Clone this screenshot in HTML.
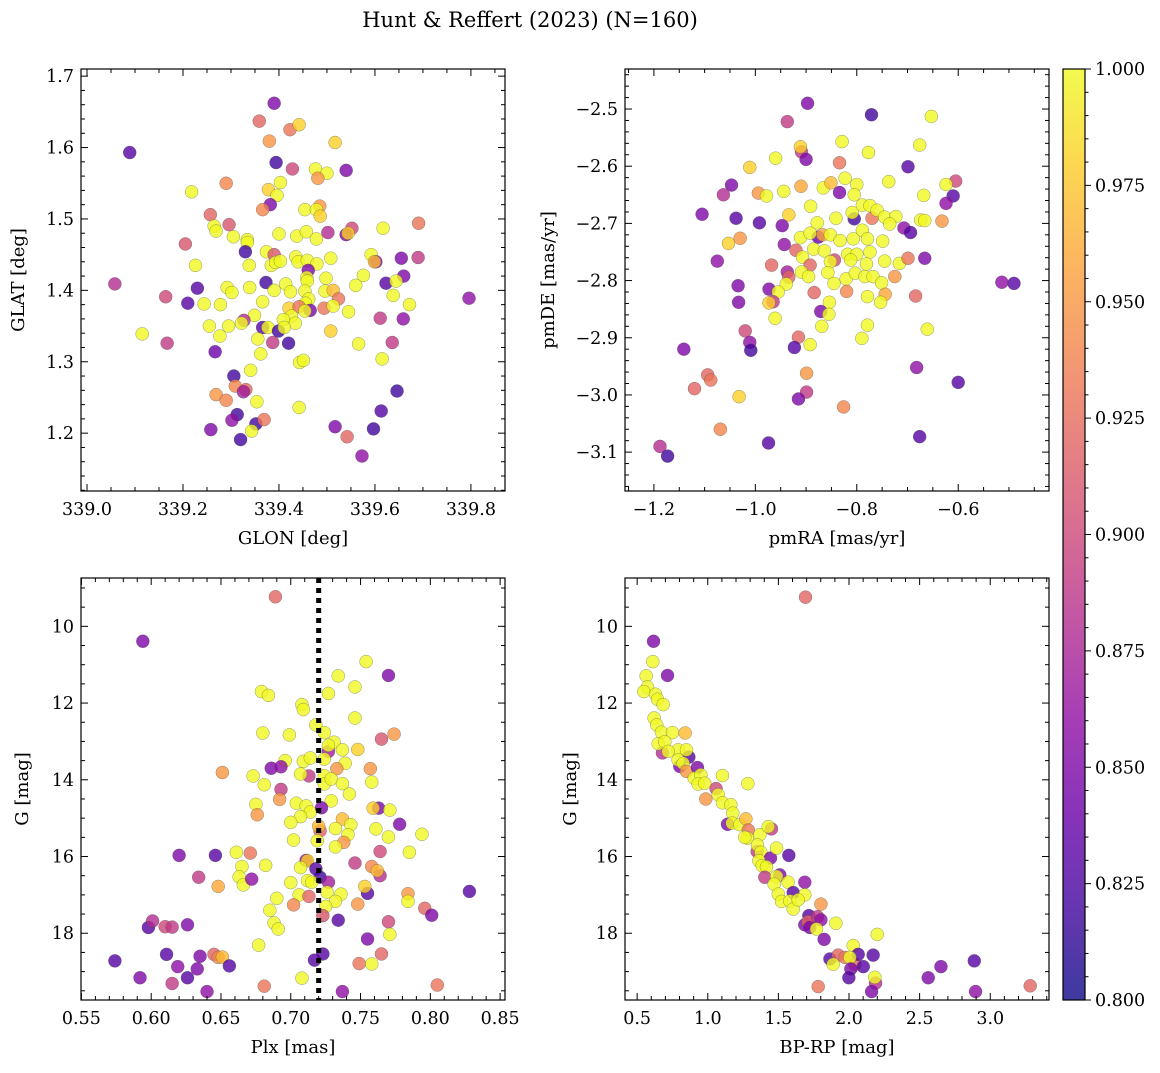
<!DOCTYPE html>
<html><head><meta charset="utf-8"><style>
body{margin:0;background:#fff;}
svg text{font-family:"DejaVu Serif","Liberation Serif",serif;fill:#000;}
</style></head><body>
<svg id="fig" width="1160" height="1068" xmlns="http://www.w3.org/2000/svg">
<text x="530" y="27" font-size="21" text-anchor="middle">Hunt &amp; Reffert (2023) (N=160)</text>
<defs><linearGradient id="cbg" x1="0" y1="1" x2="0" y2="0">
<stop offset="0" stop-color="#0d0887"/><stop offset="0.1" stop-color="#41049d"/><stop offset="0.2" stop-color="#6a00a8"/><stop offset="0.3" stop-color="#8f0da4"/><stop offset="0.4" stop-color="#b12a90"/><stop offset="0.5" stop-color="#cc4778"/><stop offset="0.6" stop-color="#e16462"/><stop offset="0.7" stop-color="#f2844b"/><stop offset="0.8" stop-color="#fca636"/><stop offset="0.9" stop-color="#fcce25"/><stop offset="1" stop-color="#f0f921"/></linearGradient></defs>
</svg>
<script>
// [x, y, membership probability]
const skyStars=[[339.390,1.662,.85],[339.359,1.637,.92],[339.423,1.625,.93],[339.442,1.632,.98],[339.380,1.609,.95],[339.517,1.607,.98],[339.089,1.593,.83],[339.394,1.579,.82],[339.428,1.570,.90],[339.476,1.570,1],[339.500,1.564,1],[339.481,1.557,.95],[339.540,1.568,.85],[339.290,1.550,.94],[339.218,1.538,1],[339.403,1.551,1],[339.378,1.541,.98],[339.396,1.533,1],[339.382,1.520,.85],[339.366,1.513,.94],[339.454,1.513,1],[339.485,1.518,.95],[339.478,1.513,1],[339.486,1.504,.98],[339.257,1.506,.92],[339.296,1.492,.91],[339.265,1.490,1],[339.269,1.483,1],[339.205,1.465,.91],[339.305,1.475,1],[339.334,1.471,1],[339.334,1.467,1],[339.330,1.454,.82],[339.400,1.479,1],[339.437,1.476,1],[339.457,1.482,1],[339.478,1.472,1],[339.502,1.481,.88],[339.552,1.487,.90],[339.540,1.478,.85],[339.544,1.480,.98],[339.617,1.487,1],[339.691,1.494,.93],[339.374,1.454,1],[339.390,1.450,.91],[339.226,1.435,1],[339.338,1.435,1],[339.384,1.435,1],[339.393,1.439,1],[339.403,1.441,1],[339.435,1.447,1],[339.440,1.440,1],[339.459,1.442,1],[339.479,1.437,1],[339.508,1.445,1],[339.592,1.450,1],[339.602,1.440,.85],[339.599,1.440,.97],[339.655,1.445,.85],[339.690,1.446,.89],[339.461,1.428,.85],[339.458,1.418,1],[339.459,1.413,1],[339.498,1.417,1],[339.576,1.421,1],[339.660,1.420,.85],[339.623,1.410,.83],[339.644,1.413,1],[339.058,1.409,.88],[339.230,1.403,.83],[339.292,1.404,1],[339.302,1.397,1],[339.339,1.404,1],[339.373,1.411,.82],[339.414,1.409,1],[339.390,1.400,1],[339.424,1.398,1],[339.454,1.399,1],[339.496,1.399,1],[339.513,1.400,.97],[339.560,1.407,1],[339.796,1.389,.86],[339.164,1.391,.90],[339.210,1.382,.83],[339.244,1.381,1],[339.278,1.380,1],[339.366,1.384,1],[339.462,1.388,1],[339.455,1.382,1],[339.524,1.388,.93],[339.494,1.375,.93],[339.513,1.378,1],[339.638,1.393,1],[339.672,1.380,1],[339.421,1.375,.98],[339.442,1.377,.93],[339.465,1.372,.85],[339.454,1.371,1],[339.426,1.364,1],[339.545,1.370,1],[339.349,1.365,1],[339.327,1.358,.88],[339.322,1.354,1],[339.409,1.359,1],[339.434,1.354,1],[339.255,1.350,1],[339.295,1.350,1],[339.366,1.348,.83],[339.377,1.348,1],[339.399,1.343,.82],[339.411,1.348,1],[339.611,1.361,.89],[339.659,1.360,.86],[339.508,1.343,.98],[339.115,1.339,1],[339.277,1.336,1],[339.356,1.332,1],[339.167,1.326,.89],[339.387,1.327,.89],[339.420,1.326,.82],[339.566,1.325,1],[339.636,1.327,.89],[339.267,1.314,.84],[339.362,1.311,1],[339.615,1.304,1],[339.443,1.299,1],[339.451,1.302,1],[339.341,1.288,1],[339.306,1.280,.82],[339.309,1.266,.94],[339.331,1.261,.92],[339.326,1.258,.87],[339.646,1.259,.82],[339.269,1.254,.95],[339.290,1.246,.94],[339.354,1.244,1],[339.442,1.236,1],[339.613,1.231,.83],[339.313,1.226,.82],[339.302,1.218,.86],[339.352,1.213,.82],[339.369,1.219,.93],[339.343,1.203,1],[339.258,1.205,.85],[339.517,1.209,.85],[339.597,1.206,.82],[339.542,1.195,.92],[339.320,1.191,.82],[339.573,1.168,.86]];
const pmStars=[[-0.897,-2.490,.85],[-0.771,-2.510,.82],[-0.653,-2.513,1],[-0.937,-2.522,.89],[-0.829,-2.557,1],[-0.909,-2.575,.89],[-0.911,-2.566,.98],[-0.900,-2.588,.85],[-0.777,-2.576,1],[-0.676,-2.563,1],[-0.960,-2.586,1],[-1.011,-2.602,.98],[-0.834,-2.594,.93],[-0.699,-2.601,.83],[-1.047,-2.633,.85],[-1.063,-2.650,.88],[-0.994,-2.647,.95],[-0.978,-2.652,1],[-0.944,-2.644,1],[-0.910,-2.635,.96],[-0.866,-2.638,1],[-0.851,-2.629,.97],[-0.834,-2.646,.85],[-0.823,-2.621,1],[-0.800,-2.632,1],[-0.805,-2.650,1],[-0.737,-2.627,1],[-0.668,-2.651,1],[-0.605,-2.626,.90],[-0.624,-2.632,1],[-0.610,-2.652,.83],[-0.624,-2.665,.86],[-1.105,-2.684,.85],[-1.038,-2.691,.83],[-0.992,-2.699,.83],[-0.947,-2.704,.85],[-0.934,-2.685,.98],[-0.891,-2.670,1],[-0.878,-2.699,1],[-0.841,-2.691,1],[-0.805,-2.692,.82],[-0.809,-2.681,1],[-0.789,-2.668,1],[-0.774,-2.669,1],[-0.770,-2.691,.93],[-0.760,-2.677,1],[-0.745,-2.689,1],[-0.723,-2.688,1],[-0.735,-2.701,1],[-0.674,-2.694,1],[-0.666,-2.695,1],[-0.632,-2.696,.95],[-0.707,-2.708,.86],[-0.694,-2.716,.83],[-1.053,-2.735,.98],[-1.030,-2.726,.95],[-0.943,-2.737,.86],[-0.920,-2.747,.92],[-0.911,-2.725,1],[-0.876,-2.724,.84],[-0.892,-2.717,1],[-0.867,-2.720,.96],[-0.852,-2.720,1],[-0.833,-2.730,1],[-0.807,-2.727,1],[-0.789,-2.712,1],[-0.779,-2.727,1],[-0.749,-2.731,1],[-0.885,-2.745,1],[-0.864,-2.748,1],[-0.774,-2.750,1],[-0.818,-2.754,1],[-0.800,-2.754,1],[-0.907,-2.759,1],[-1.075,-2.766,.86],[-0.968,-2.773,.92],[-0.892,-2.773,.92],[-0.844,-2.764,.90],[-0.852,-2.767,1],[-0.812,-2.764,1],[-0.781,-2.771,1],[-0.745,-2.766,1],[-0.716,-2.770,1],[-0.699,-2.761,.93],[-0.666,-2.761,.85],[-0.937,-2.785,.87],[-0.934,-2.794,.92],[-0.909,-2.785,1],[-0.895,-2.793,1],[-0.857,-2.786,1],[-0.821,-2.797,1],[-0.803,-2.787,1],[-0.784,-2.793,1],[-0.768,-2.793,1],[-0.725,-2.793,.95],[-1.034,-2.809,.85],[-0.973,-2.815,.85],[-0.939,-2.806,1],[-0.955,-2.820,1],[-0.845,-2.805,1],[-0.751,-2.804,1],[-0.884,-2.821,.92],[-0.820,-2.819,.94],[-0.514,-2.803,.86],[-0.490,-2.805,.83],[-1.033,-2.838,.85],[-0.965,-2.837,.89],[-0.973,-2.839,.98],[-0.854,-2.838,1],[-0.779,-2.828,1],[-0.744,-2.824,.96],[-0.753,-2.838,1],[-0.684,-2.827,.92],[-0.871,-2.854,.85],[-0.855,-2.859,1],[-0.961,-2.866,1],[-0.869,-2.880,1],[-0.779,-2.878,1],[-0.661,-2.885,1],[-0.790,-2.901,1],[-1.020,-2.888,.90],[-0.915,-2.899,.92],[-0.892,-2.912,1],[-1.011,-2.908,.86],[-1.009,-2.922,.82],[-0.923,-2.917,.83],[-1.141,-2.920,.85],[-0.682,-2.952,.86],[-0.899,-2.962,.95],[-1.094,-2.965,.92],[-1.088,-2.974,.93],[-1.120,-2.989,.92],[-1.032,-3.003,.98],[-0.899,-2.995,.89],[-0.915,-3.007,.85],[-0.600,-2.978,.83],[-0.826,-3.021,.94],[-1.069,-3.060,.94],[-0.974,-3.084,.83],[-0.676,-3.073,.83],[-1.188,-3.090,.88],[-1.173,-3.107,.82]];
const plxStars=[[0.689,9.23,.92],[0.594,10.39,.85],[0.754,10.92,1],[0.770,11.28,.85],[0.734,11.29,1],[0.746,11.58,1],[0.679,11.70,1],[0.684,11.80,1],[0.727,11.75,1],[0.708,12.04,1],[0.709,12.17,1],[0.746,12.39,1],[0.718,12.57,1],[0.680,12.78,1],[0.699,12.83,1],[0.724,12.77,1],[0.765,12.94,.91],[0.774,12.81,.95],[0.727,13.26,.87],[0.731,13.02,1],[0.727,13.10,1],[0.737,13.22,1],[0.748,13.21,.98],[0.696,13.50,1],[0.709,13.52,1],[0.714,13.43,1],[0.724,13.46,1],[0.686,13.70,.85],[0.693,13.66,.86],[0.739,13.57,1],[0.733,13.71,.95],[0.757,13.71,.95],[0.651,13.81,.95],[0.713,13.90,.89],[0.707,13.85,1],[0.724,13.89,1],[0.724,14.11,1],[0.729,13.98,1],[0.673,13.90,1],[0.758,14.06,1],[0.737,14.10,1],[0.681,14.13,1],[0.693,14.25,.89],[0.692,14.51,.95],[0.704,14.61,1],[0.711,14.68,1],[0.714,14.84,1],[0.707,14.96,1],[0.729,14.55,1],[0.742,14.37,1],[0.675,14.64,1],[0.676,14.91,.95],[0.722,14.73,.85],[0.763,14.74,.85],[0.759,14.74,.98],[0.771,14.79,1],[0.700,15.11,1],[0.737,15.02,.97],[0.743,15.17,1],[0.732,15.27,1],[0.741,15.43,1],[0.721,15.33,.92],[0.720,15.21,.97],[0.778,15.16,.85],[0.761,15.28,1],[0.770,15.49,1],[0.794,15.42,1],[0.702,15.57,1],[0.719,15.59,1],[0.738,15.63,.95],[0.732,15.75,1],[0.764,15.87,.90],[0.785,15.89,1],[0.620,15.97,.85],[0.646,15.97,.83],[0.661,15.89,1],[0.671,15.91,.93],[0.682,16.23,1],[0.665,16.26,1],[0.711,16.10,.86],[0.712,16.11,.98],[0.707,16.29,1],[0.718,16.32,.83],[0.746,16.17,.89],[0.758,16.26,.94],[0.764,16.50,.88],[0.762,16.37,.97],[0.634,16.54,.89],[0.663,16.53,1],[0.666,16.74,1],[0.672,16.59,.86],[0.721,16.54,.82],[0.712,16.63,1],[0.715,16.67,1],[0.727,16.67,.87],[0.700,16.68,1],[0.648,16.78,.96],[0.755,16.96,.83],[0.753,16.78,.98],[0.828,16.91,.83],[0.726,16.93,1],[0.736,16.98,1],[0.706,17.00,1],[0.713,17.04,.92],[0.784,16.97,.95],[0.784,17.17,1],[0.690,17.09,1],[0.702,17.26,.94],[0.732,17.17,1],[0.725,17.30,1],[0.748,17.24,.95],[0.796,17.35,.92],[0.801,17.53,.85],[0.685,17.40,1],[0.723,17.54,.91],[0.688,17.73,1],[0.691,17.89,1],[0.734,17.66,.83],[0.770,17.70,.90],[0.598,17.85,.83],[0.601,17.68,.88],[0.610,17.83,.90],[0.615,17.84,.89],[0.626,17.78,.85],[0.771,18.03,1],[0.755,18.15,.85],[0.677,18.31,1],[0.611,18.55,.83],[0.635,18.60,.85],[0.645,18.55,.92],[0.648,18.63,.94],[0.651,18.62,.97],[0.656,18.85,.83],[0.574,18.72,.83],[0.619,18.87,.86],[0.633,18.93,.85],[0.626,19.16,.83],[0.592,19.16,.85],[0.615,19.31,.89],[0.640,19.52,.86],[0.717,18.70,.83],[0.723,18.54,.83],[0.749,18.79,.93],[0.758,18.80,1],[0.765,18.54,.92],[0.708,19.17,1],[0.681,19.38,.93],[0.737,19.52,.86],[0.805,19.35,.93]];
const cmdStars=[[1.692,9.24,.92],[0.616,10.39,.85],[0.611,10.92,1],[0.715,11.28,.85],[0.564,11.29,1],[0.573,11.58,1],[0.547,11.70,1],[0.630,11.77,1],[0.644,11.90,1],[0.684,12.04,1],[0.620,12.39,1],[0.639,12.57,1],[0.672,12.76,1],[0.750,12.77,1],[0.840,12.78,.97],[0.679,13.30,.88],[0.649,13.06,1],[0.696,13.01,1],[0.866,13.41,.83],[0.790,13.22,1],[0.849,13.22,1],[0.720,13.26,1],[0.802,13.65,.85],[0.790,13.48,1],[0.826,13.57,1],[0.849,13.78,.95],[0.927,13.68,.85],[0.904,13.96,1],[0.951,13.87,1],[0.932,14.11,1],[0.979,14.09,1],[1.104,13.89,1],[1.284,14.10,1],[0.986,14.50,.95],[1.059,14.23,.90],[1.074,14.39,1],[1.104,14.60,1],[1.163,14.65,1],[1.177,14.87,1],[1.140,15.16,.85],[1.173,15.13,1],[1.227,15.17,1],[1.270,15.02,.97],[1.287,15.31,.93],[1.281,15.52,1],[1.262,15.50,1],[1.451,15.28,.89],[1.369,15.43,1],[1.428,15.22,1],[1.350,15.87,.89],[1.352,15.70,1],[1.376,15.89,1],[1.444,16.04,.85],[1.487,15.78,1],[1.574,15.97,.83],[1.362,16.11,1],[1.385,16.24,1],[1.416,16.27,1],[1.404,16.54,.89],[1.510,16.48,.85],[1.487,16.52,1],[1.687,16.67,.86],[1.470,16.72,1],[1.569,16.67,1],[1.605,16.94,.83],[1.499,16.98,1],[1.522,17.17,1],[1.581,17.16,1],[1.605,17.37,1],[1.687,17.00,1],[1.640,17.13,1],[1.801,17.24,.95],[1.716,17.54,.83],[1.687,17.78,.85],[1.711,17.70,.92],[1.777,17.57,.89],[1.801,17.65,.86],[1.723,17.85,.85],[1.770,17.89,1],[1.907,17.74,1],[1.824,18.16,.85],[2.200,18.03,1],[2.030,18.32,1],[1.865,18.67,.83],[1.923,18.57,.92],[1.971,18.63,.93],[2.042,18.81,.92],[2.065,18.55,.83],[2.006,18.63,1],[1.888,18.81,1],[2.013,18.93,.85],[2.101,18.87,.83],[2.171,18.57,.83],[1.999,19.16,.83],[2.188,19.30,.88],[2.160,19.52,.85],[2.183,19.15,1],[1.782,19.39,.93],[2.561,19.16,.85],[2.651,18.87,.85],[2.887,18.72,.83],[2.896,19.52,.86],[3.283,19.37,.92]];
const plxRef=[0.72];
const cbTicks=[0.800,0.825,0.850,0.875,0.900,0.925,0.950,0.975,1.000];

const NS='http://www.w3.org/2000/svg';
const svg=document.getElementById('fig');
function mk(tag,attrs,parent){const e=document.createElementNS(NS,tag);for(const k in attrs)e.setAttribute(k,attrs[k]);(parent||svg).appendChild(e);return e;}
const stops=[[13,8,135],[65,4,157],[106,0,168],[143,13,164],[177,42,144],[204,71,120],[225,100,98],[242,132,75],[252,166,54],[252,206,37],[240,249,33]];
function plasma(t){t=Math.max(0,Math.min(1,t))*10;const i=Math.min(9,Math.floor(t)),f=t-i;const a=stops[i],b=stops[i+1];return 'rgb('+a.map((v,k)=>Math.round(v+(b[k]-v)*f)).join(',')+')';}
function fmt(v,d){return (v<0?'\u2212':'')+Math.abs(v).toFixed(d);}
const TFS=17.5, LFS=18;

function panel(o){
  const g=mk('g',{});
  
  
  const sx=v=>o.L+(v-o.x0)/(o.x1-o.x0)*(o.R-o.L);
  const sy=v=>o.B-(v-o.y0)/(o.y1-o.y0)*(o.B-o.T);
  const pts=mk('g',{},g);
  
  
  o.data.forEach(d=>{const c=mk('circle',{cx:sx(d[0]),cy:sy(d[1]),r:6.5,fill:plasma((d[2]-0.8)/0.2),'fill-opacity':0.8,stroke:'rgba(70,70,70,0.55)','stroke-width':0.5},pts);
    
    });
  if(o.vline){o.vline.forEach(v=>{const l=mk('line',{x1:sx(v),x2:sx(v),y1:o.T,y2:o.B,stroke:'#000','stroke-width':5,'stroke-dasharray':'5 5'},g);
    
    });}
  const fr=mk('rect',{x:o.L,y:o.T,width:o.R-o.L,height:o.B-o.T,fill:'none',stroke:'#000','stroke-width':1.2},g);
  
  
  const ax=mk('g',{stroke:'#000','stroke-width':1},g);
  
  
  const eps=1e-9;
  const lo=Math.min(o.x0,o.x1),hi=Math.max(o.x0,o.x1);
  for(let k=Math.ceil(lo/o.xm-eps);k*o.xm<=hi+eps;k++){const v=k*o.xm,x=sx(v);const maj=Math.abs(v/o.xM-Math.round(v/o.xM))<1e-6;const len=maj?7:4;
    mk('line',{x1:x,x2:x,y1:o.B,y2:o.B-len},ax);mk('line',{x1:x,x2:x,y1:o.T,y2:o.T+len},ax);
    if(maj){const t=mk('text',{x:x,y:o.B+24,'font-size':TFS,'text-anchor':'middle',stroke:'none'},g);t.textContent=fmt(v,o.xd);
      
      }}
  const ylo=Math.min(o.y0,o.y1),yhi=Math.max(o.y0,o.y1);
  for(let k=Math.ceil(ylo/o.ym-eps);k*o.ym<=yhi+eps;k++){const v=k*o.ym,y=sy(v);const maj=Math.abs(v/o.yM-Math.round(v/o.yM))<1e-6;const len=maj?7:4;
    mk('line',{x1:o.L,x2:o.L+len,y1:y,y2:y},ax);mk('line',{x1:o.R,x2:o.R-len,y1:y,y2:y},ax);
    if(maj){const t=mk('text',{x:o.L-7,y:y+6,'font-size':TFS,'text-anchor':'end',stroke:'none'},g);t.textContent=fmt(v,o.yd);
      
      }}
  const xl=mk('text',{x:(o.L+o.R)/2,y:o.B+53,'font-size':LFS,'text-anchor':'middle'},g);xl.textContent=o.xlab;
  
  
  const yx=o.L-(o.ylw||62),yy=(o.T+o.B)/2;
  const yl=mk('text',{x:yx,y:yy,'font-size':LFS,'text-anchor':'middle',transform:'rotate(-90 '+yx+' '+yy+')'},g);yl.textContent=o.ylab;
  
  
}
panel({name:'sky-position-panel',data:skyStars,L:81,R:505,T:69,B:491,x0:338.9875,x1:339.871,y0:1.119,y1:1.71,xM:0.2,xm:0.05,yM:0.1,ym:0.02,xd:1,yd:1,xlab:'GLON [deg]',ylab:'GLAT [deg]',ylw:57});
panel({name:'proper-motion-panel',data:pmStars,L:625,R:1049,T:69,B:491,x0:-1.257,x1:-0.421,y0:-3.168,y1:-2.43,xM:0.2,xm:0.05,yM:0.1,ym:0.02,xd:1,yd:1,xlab:'pmRA [mas/yr]',ylab:'pmDE [mas/yr]',ylw:71});
panel({name:'parallax-magnitude-panel',data:plxStars,vline:plxRef,L:81,R:505,T:578,B:1000,x0:0.5497,x1:0.8535,y0:19.74,y1:8.74,xM:0.05,xm:0.01,yM:2,ym:0.5,xd:2,yd:0,xlab:'Plx [mas]',ylab:'G [mag]',ylw:53});
panel({name:'color-magnitude-panel',data:cmdStars,L:625,R:1049,T:578,B:1000,x0:0.414,x1:3.416,y0:19.74,y1:8.74,xM:0.5,xm:0.1,yM:2,ym:0.5,xd:1,yd:0,xlab:'BP-RP [mag]',ylab:'G [mag]',ylw:49});

// colorbar
const cb=mk('g',{});


const CT=69,CB=1000,CL=1063,CR=1085;
mk('rect',{x:CL,y:CT,width:CR-CL,height:CB-CT,fill:'url(#cbg)','fill-opacity':0.8},cb);
mk('rect',{x:CL,y:CT,width:CR-CL,height:CB-CT,fill:'none',stroke:'#000','stroke-width':1.2},cb);
const cy=v=>CB-(v-0.8)/0.2*(CB-CT);
for(let k=0;k<=40;k++){const v=0.8+k*0.005,y=cy(v);const maj=k%5===0;mk('line',{x1:CR,x2:CR+(maj?6:3.5),y1:y,y2:y,stroke:'#000','stroke-width':1},cb);}
cbTicks.forEach(v=>{const t=mk('text',{x:CR+10,y:cy(v)+6,'font-size':TFS},cb);t.textContent=v.toFixed(3);
  
  });
</script>
</body></html>
